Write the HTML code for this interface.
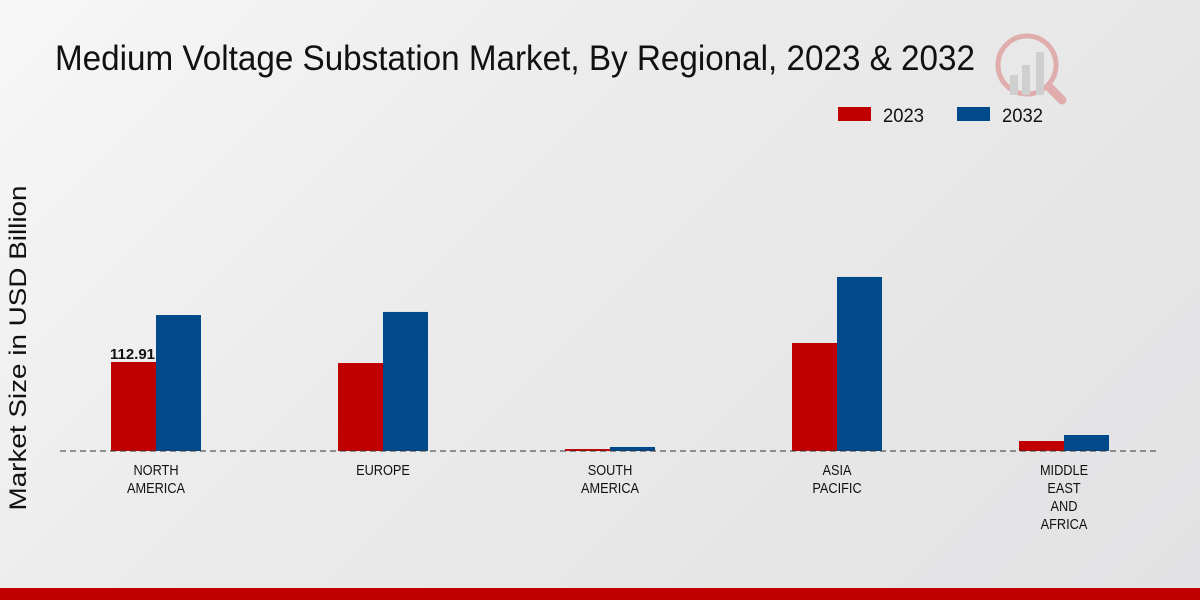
<!DOCTYPE html>
<html><head><meta charset="utf-8"><style>
html,body{margin:0;padding:0}
body{width:1200px;height:600px;overflow:hidden;background:linear-gradient(135deg,#f7f7f7 0%,#ebebeb 40%,#e2e2e4 100%);font-family:"Liberation Sans",sans-serif;position:relative}
svg{position:absolute;left:0;top:0}
</style></head><body>
<svg width="1200" height="600">
<text x="55" y="70" font-size="35" fill="#111" textLength="920" lengthAdjust="spacingAndGlyphs">Medium Voltage Substation Market, By Regional, 2023 &amp; 2032</text>
<g opacity="0.25">
<circle cx="1027" cy="65" r="29" fill="none" stroke="#c00" stroke-width="5"/>
<line x1="1050" y1="88" x2="1062" y2="100" stroke="#c00" stroke-width="9" stroke-linecap="round"/>
<rect x="1010" y="75" width="8" height="20" fill="#888"/><rect x="1022" y="65" width="8" height="30" fill="#888"/><rect x="1036" y="52" width="8" height="43" fill="#888"/>
</g>
<g>
<rect x="838" y="107" width="33" height="14" fill="#c00000"/>
<text x="883" y="122" font-size="19" fill="#111" textLength="41" lengthAdjust="spacingAndGlyphs">2023</text>
<rect x="957" y="107" width="33" height="14" fill="#004a8c"/>
<text x="1002" y="122" font-size="19" fill="#111" textLength="41" lengthAdjust="spacingAndGlyphs">2032</text>
</g>
<text transform="translate(26,348) rotate(-90)" text-anchor="middle" font-size="24" fill="#111" textLength="325" lengthAdjust="spacingAndGlyphs">Market Size in USD Billion</text>
<g id="plot"></g>
<rect x="0" y="588" width="1200" height="12" fill="#c00000"/>
</svg>
<script>
const categories=[["NORTH","AMERICA"],["EUROPE"],["SOUTH","AMERICA"],["ASIA","PACIFIC"],["MIDDLE","EAST","AND","AFRICA"]];
const values2023=[112.91,111.6,2.5,137,12.7];
const values2032=[172.5,176.4,5.1,220.8,20.3];
const valueLabels=["112.91","","","",""];
const NS="http://www.w3.org/2000/svg";
const g=document.getElementById('plot');
const base=451,scale=89/112.91,x0=156,step=227,bw=45;
const yS=v=>base-v*scale;
const xC=i=>x0+i*step;
function mk(t,a,p){const e=document.createElementNS(NS,t);for(const k in a)e.setAttribute(k,a[k]);(p||g).appendChild(e);return e;}
categories.forEach((c,i)=>{
 let r=mk('rect',{x:xC(i)-bw,y:yS(values2023[i]),width:bw,height:base-yS(values2023[i]),fill:'#c00000'});
 
 
 let b=mk('rect',{x:xC(i),y:yS(values2032[i]),width:bw,height:base-yS(values2032[i]),fill:'#004a8c'});
 
 
 if(valueLabels[i]){let t=mk('text',{x:xC(i)-bw/2-1,y:yS(values2023[i])-3,'text-anchor':'middle','font-size':'15','font-weight':'bold',fill:'#111'});t.textContent=valueLabels[i];
 
 }
 c.forEach((ln,j)=>{let gg=mk('g',{transform:'translate('+xC(i)+','+(475+j*18)+') scale(0.85,1)'});
 let t=mk('text',{x:0,y:0,'text-anchor':'middle','font-size':'15',fill:'#111'},gg);t.textContent=ln;
 
 });
});
const ax=mk('line',{x1:60,x2:1160,y1:base,y2:base,stroke:'#333','stroke-dasharray':'6,4','stroke-width':1});


</script>
</body></html>
